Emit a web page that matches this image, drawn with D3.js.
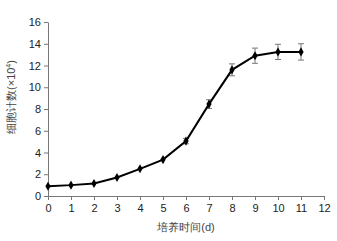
<!DOCTYPE html>
<html>
<head>
<meta charset="utf-8">
<script src="https://cdn.jsdelivr.net/npm/d3@7"></script>
<style>
  body { margin: 0; background: #fff; }
  text { font-family: "Liberation Sans", Arial, sans-serif; }
</style>
</head>
<body>
<div id="chart"></div>
<script>
// Culture days and cell counts (x10^4)
const days = [0, 1, 2, 3, 4, 5, 6, 7, 8, 9, 10, 11];
const counts = [0.9, 1.0, 1.15, 1.7, 2.5, 3.35, 5.05, 8.45, 11.6, 12.9, 13.25, 13.25];
const errors = [0.05, 0.05, 0.08, 0.1, 0.12, 0.15, 0.25, 0.4, 0.55, 0.7, 0.7, 0.75];
const xTicks = d3.range(0, 13);
const yTicks = [0, 2, 4, 6, 8, 10, 12, 14, 16];

const width = 337, height = 241;
const margin = { top: 22, right: 13, bottom: 45, left: 48 };

const svg = d3.select("#chart")
    .append("svg")
    .attr("width", width)
    .attr("height", height);

const g = svg.append("g")
    .attr("transform", `translate(${margin.left},${margin.top})`);

const w = width - margin.left - margin.right;
const h = height - margin.top - margin.bottom;

const x = d3.scaleLinear().domain([0, 12]).range([0, w]);
const y = d3.scaleLinear().domain([0, 16]).range([h, 0]);

// Axes
const xAxis = g.append("g")
    .attr("transform", `translate(0,${h})`)
    .call(d3.axisBottom(x).tickValues(xTicks).tickSize(4).tickSizeOuter(0));
const yAxis = g.append("g")
    .call(d3.axisLeft(y).tickValues(yTicks).tickSize(4).tickSizeOuter(0));

[xAxis, yAxis].forEach(a => {
    a.select(".domain").attr("stroke", "#777");
    a.selectAll(".tick line").attr("stroke", "#777");
    a.selectAll("text").attr("fill", "#222").style("font-size", "11px");
});
xAxis.selectAll("text").attr("dy", "0.85em");

// Error bars
const data = days.map((d, i) => ({ day: d, v: counts[i], e: errors[i] }));
const eb = g.append("g").attr("stroke", "#777").attr("stroke-width", 1);
data.filter(d => d.e >= 0.2).forEach(d => {
    eb.append("line").attr("x1", x(d.day)).attr("x2", x(d.day))
        .attr("y1", y(d.v + d.e)).attr("y2", y(d.v - d.e));
    [d.v + d.e, d.v - d.e].forEach(v => {
        eb.append("line").attr("x1", x(d.day) - 3).attr("x2", x(d.day) + 3)
            .attr("y1", y(v)).attr("y2", y(v));
    });
});

// Line
g.append("path")
    .datum(data)
    .attr("fill", "none")
    .attr("stroke", "#000")
    .attr("stroke-width", 2)
    .attr("d", d3.line().x(d => x(d.day)).y(d => y(d.v)));

// Markers
g.selectAll("path.marker")
    .data(data)
    .enter()
    .append("path")
    .attr("class", "marker")
    .attr("transform", d => `translate(${x(d.day)},${y(d.v)})`)
    .attr("d", d3.symbol().type(d3.symbolDiamond).size(24))
    .attr("fill", "#000");

// Axis labels
svg.append("text")
    .attr("text-anchor", "middle")
    .attr("x", margin.left + x(6))
    .attr("y", 231)
    .attr("fill", "#444")
    .style("font-size", "11px")
    .text("培养时间(d)");

svg.append("text")
    .attr("text-anchor", "middle")
    .attr("transform", `translate(15,${97}) rotate(-90)`)
    .attr("fill", "#444")
    .style("font-size", "11px")
    .html('细胞计数(×10<tspan dy="-4" font-size="7px">4</tspan><tspan dy="4">)</tspan>');
</script>
</body>
</html>
